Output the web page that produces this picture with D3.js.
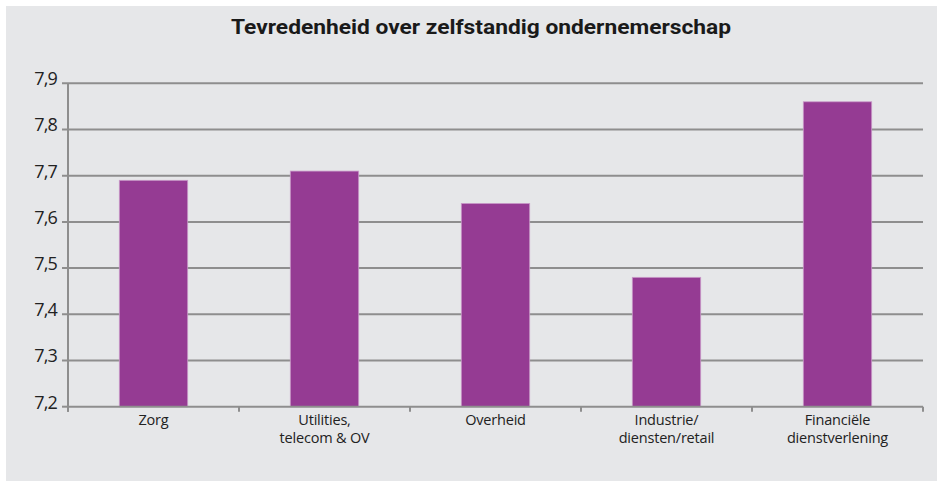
<!DOCTYPE html>
<html><head><meta charset="utf-8">
<script src="https://cdn.jsdelivr.net/npm/d3@7"></script>
<style>body{margin:0;background:#fff}svg{display:block}</style>
</head><body>
<script>
const title = "Tevredenheid over zelfstandig ondernemerschap";
const categories = [["Zorg"],["Utilities,","telecom & OV"],["Overheid"],["Industrie/","diensten/retail"],["Financiële","dienstverlening"]];
const values = [7.69, 7.71, 7.64, 7.48, 7.86];
const yTicks = [7.2, 7.3, 7.4, 7.5, 7.6, 7.7, 7.8, 7.9];

const W = 943, H = 484;
const svg = d3.select("body").append("svg").attr("width", W).attr("height", H);
svg.append("rect").attr("x", 6).attr("y", 6).attr("width", 931).attr("height", 475).attr("fill", "#e6e7e9");

const m = {l: 68, r: 923, t: 83.3, b: 406.7};
const x = d3.scaleBand().domain(d3.range(categories.length)).range([m.l, m.r]).paddingInner(0.6).paddingOuter(0.3);
const y = d3.scaleLinear().domain([7.2, 7.9]).range([m.b, m.t]);

// gridlines
svg.append("g").selectAll("line").data(yTicks.slice(1)).join("line")
  .attr("x1", m.l - 6).attr("x2", m.r).attr("y1", d => y(d)).attr("y2", d => y(d))
  .attr("stroke", "#8e8e8e").attr("stroke-width", 2);

// bars
svg.append("g").selectAll("rect").data(values).join("rect")
  .attr("x", (d, i) => x(i)).attr("width", x.bandwidth())
  .attr("y", d => y(d)).attr("height", d => y(7.2) - y(d))
  .attr("fill", "#953b93").attr("stroke", "#c99ac8").attr("stroke-width", 0.8);

// y axis
const yAxis = svg.append("g");
yAxis.append("line").attr("x1", m.l).attr("x2", m.l).attr("y1", m.t).attr("y2", m.b + 5)
  .attr("stroke", "#8e8e8e").attr("stroke-width", 2);
yAxis.append("line").attr("x1", m.l - 6).attr("x2", m.l).attr("y1", m.b).attr("y2", m.b)
  .attr("stroke", "#8e8e8e").attr("stroke-width", 2);
yAxis.selectAll("text").data(yTicks).join("text")
  .attr("x", 57).attr("y", d => y(d)).attr("dy", "0.1em")
  .attr("text-anchor", "end")
  .attr("font-family", "Open Sans, sans-serif").attr("font-size", 18).attr("fill", "#222")
  .attr("letter-spacing", -0.8)
  .text(d => d3.format(".1f")(d).replace(".", ","));

// x axis
const bandStep = (m.r - m.l) / categories.length;
const xAxis = svg.append("g");
xAxis.append("line").attr("x1", m.l).attr("x2", m.r).attr("y1", m.b).attr("y2", m.b)
  .attr("stroke", "#8e8e8e").attr("stroke-width", 2);
xAxis.selectAll("line.tick").data(d3.range(categories.length + 1)).join("line").attr("class", "tick")
  .attr("x1", i => m.l + i * bandStep).attr("x2", i => m.l + i * bandStep)
  .attr("y1", m.b).attr("y2", m.b + 5).attr("stroke", "#8e8e8e").attr("stroke-width", 2);
const lbl = xAxis.selectAll("text").data(categories).join("text")
  .attr("x", (d, i) => x(i) + x.bandwidth() / 2).attr("y", 425)
  .attr("text-anchor", "middle")
  .attr("font-family", "Open Sans, sans-serif").attr("font-size", 14.5).attr("fill", "#222")
  .attr("letter-spacing", -0.2);
lbl.selectAll("tspan").data(d => d).join("tspan")
  .attr("x", function() { return this.parentNode.getAttribute("x"); })
  .attr("dy", (d, i) => i === 0 ? 0 : 18).text(d => d);

svg.append("text").attr("x", 481).attr("y", 34).attr("text-anchor", "middle")
  .attr("font-family", "Roboto, sans-serif").attr("font-weight", "bold").attr("font-size", 20)
  .attr("fill", "#1a1a1a").attr("textLength", 500).attr("lengthAdjust", "spacingAndGlyphs")
  .text(title);
</script>
</body></html>
